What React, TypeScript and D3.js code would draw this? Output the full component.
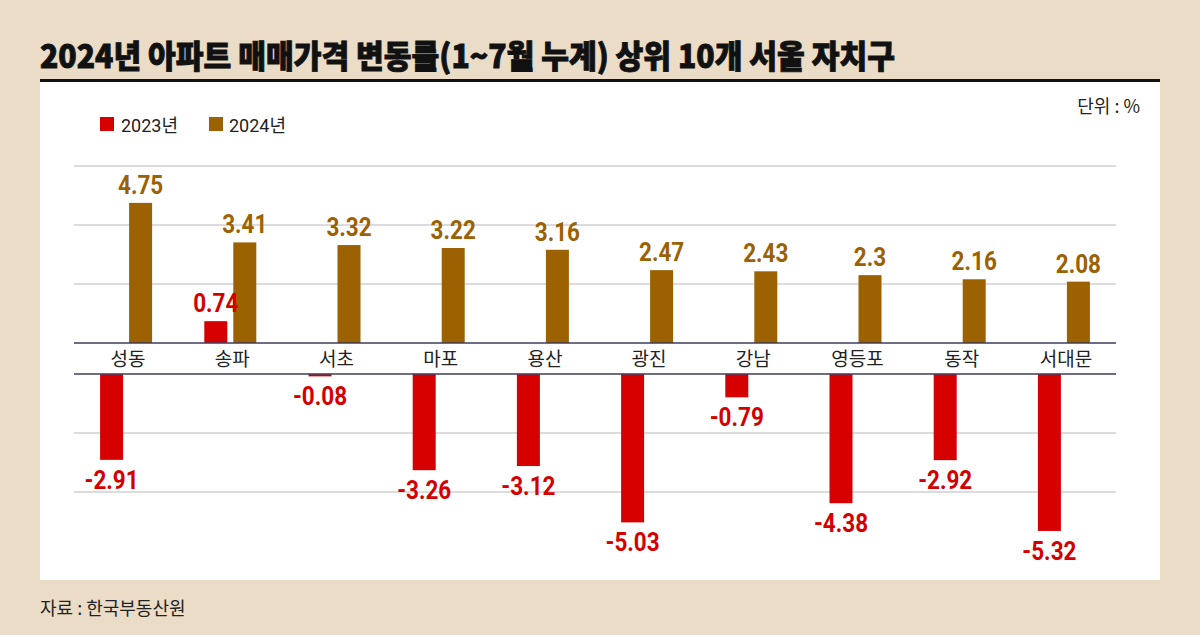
import React from "react";
import * as d3 from "d3";

const categories = ["성동", "송파", "서초", "마포", "용산", "광진", "강남", "영등포", "동작", "서대문"];
const values2023 = [-2.91, 0.74, -0.08, -3.26, -3.12, -5.03, -0.79, -4.38, -2.92, -5.32];
const values2024 = [4.75, 3.41, 3.32, 3.22, 3.16, 2.47, 2.43, 2.3, 2.16, 2.08];
const seriesNames = ["2023년", "2024년"];
const posTicks = [2, 4, 6];
const negTicks = [-2, -4];

const W = 1200;
const H = 635;
const BG = "#eadcc6";
const RED = "#d70000";
const BROWN = "#9c6100";
const RED_TXT = "#d40000";
const BROWN_TXT = "#9a6204";
const KFONT = "'Noto Sans CJK KR', sans-serif";
const NFONT = "Roboto, 'Noto Sans CJK KR', sans-serif";

function ValueLabel({ x, y, text, fill }: { x: number; y: number; text: string; fill: string }) {
  return (
    <text
      transform={`translate(${x},${y}) scale(0.9,1)`}
      textAnchor="middle"
      fontFamily={NFONT}
      fontWeight={700}
      fontSize={25}
      fill={fill}
    >
      {text}
    </text>
  );
}

export default function App() {
  const x = d3.scaleBand<string>().domain(categories).range([74, 1116]);
  const sub = d3.scaleBand<string>().domain(seriesNames).range([0, 52]).paddingInner(0.207);
  const yPos = d3.scaleLinear().domain([0, 6]).range([343, 166]);
  const yNeg = d3.scaleLinear().domain([-6, 0]).range([551, 374]);
  const bw = sub.bandwidth();

  const fmt = (v: number) => (v < 0 ? "-" + Math.abs(v).toString() : v.toString());

  return (
    <svg width={W} height={H} style={{ position: "absolute", left: 0, top: 0 }} xmlns="http://www.w3.org/2000/svg">
      <rect x={0} y={0} width={W} height={H} fill={BG} />
      <text x={40} y={68} fontFamily={KFONT} fontWeight={900} fontSize={32} fill="#111" stroke="#111" strokeWidth={0.9} textLength={855} lengthAdjust="spacingAndGlyphs">
        2024년 아파트 매매가격 변동률(1~7월 누계) 상위 10개 서울 자치구
      </text>
      <rect x={40} y={82} width={1120} height={498} fill="#ffffff" />
      <line x1={40} x2={1160} y1={80.5} y2={80.5} stroke="#111" strokeWidth={3} />

      {/* legend */}
      <rect x={100} y={117} width={14} height={14} fill={RED} />
      <text x={121} y={132} fontFamily={NFONT} fontSize={18} fill="#222">{seriesNames[0]}</text>
      <rect x={209} y={117} width={14} height={14} fill={BROWN} />
      <text x={229} y={132} fontFamily={NFONT} fontSize={18} fill="#222">{seriesNames[1]}</text>
      <text x={1140} y={113} textAnchor="end" fontFamily={KFONT} fontSize={18} fill="#222">단위 : %</text>

      {/* gridlines */}
      {posTicks.map((t) => (
        <line key={"p" + t} x1={74} x2={1116} y1={yPos(t)} y2={yPos(t)} stroke="#b9b9c0" strokeWidth={1} />
      ))}
      {negTicks.map((t) => (
        <line key={"n" + t} x1={74} x2={1116} y1={yNeg(t)} y2={yNeg(t)} stroke="#b9b9c0" strokeWidth={1} />
      ))}

      {/* bars */}
      {categories.map((c, i) => {
        const cx = (x(c) as number) + x.bandwidth() / 2;
        const x23 = cx - 26 + (sub(seriesNames[0]) as number);
        const x24 = cx - 26 + (sub(seriesNames[1]) as number);
        const v23 = values2023[i];
        const v24 = values2024[i];
        const r23 = v23 >= 0
          ? { y: yPos(v23), h: yPos(0) - yPos(v23) }
          : { y: yNeg(0), h: yNeg(v23) - yNeg(0) };
        const ly23 = v23 >= 0 ? yPos(v23) - 9 : yNeg(v23) + 29;
        return (
          <g key={c}>
            <rect x={x24} y={yPos(v24)} width={bw} height={yPos(0) - yPos(v24)} fill={BROWN} />
            <rect x={x23} y={r23.y} width={bw} height={r23.h} fill={RED} />
            <ValueLabel x={x24 + bw / 2} y={yPos(v24) - 9} text={fmt(v24)} fill={BROWN_TXT} />
            <ValueLabel x={x23 + bw / 2} y={ly23} text={fmt(v23)} fill={RED_TXT} />
            <text x={cx + 2} y={366} textAnchor="middle" fontFamily={KFONT} fontSize={19} fill="#222">{c}</text>
          </g>
        );
      })}

      {/* zero lines */}
      <line x1={74} x2={1116} y1={yPos(0)} y2={yPos(0)} stroke="#3d3d5c" strokeWidth={1.3} />
      <line x1={74} x2={1116} y1={yNeg(0)} y2={yNeg(0)} stroke="#3d3d5c" strokeWidth={1.3} />

      <text x={40} y={615} fontFamily={KFONT} fontSize={18} fill="#222">자료 : 한국부동산원</text>
    </svg>
  );
}
